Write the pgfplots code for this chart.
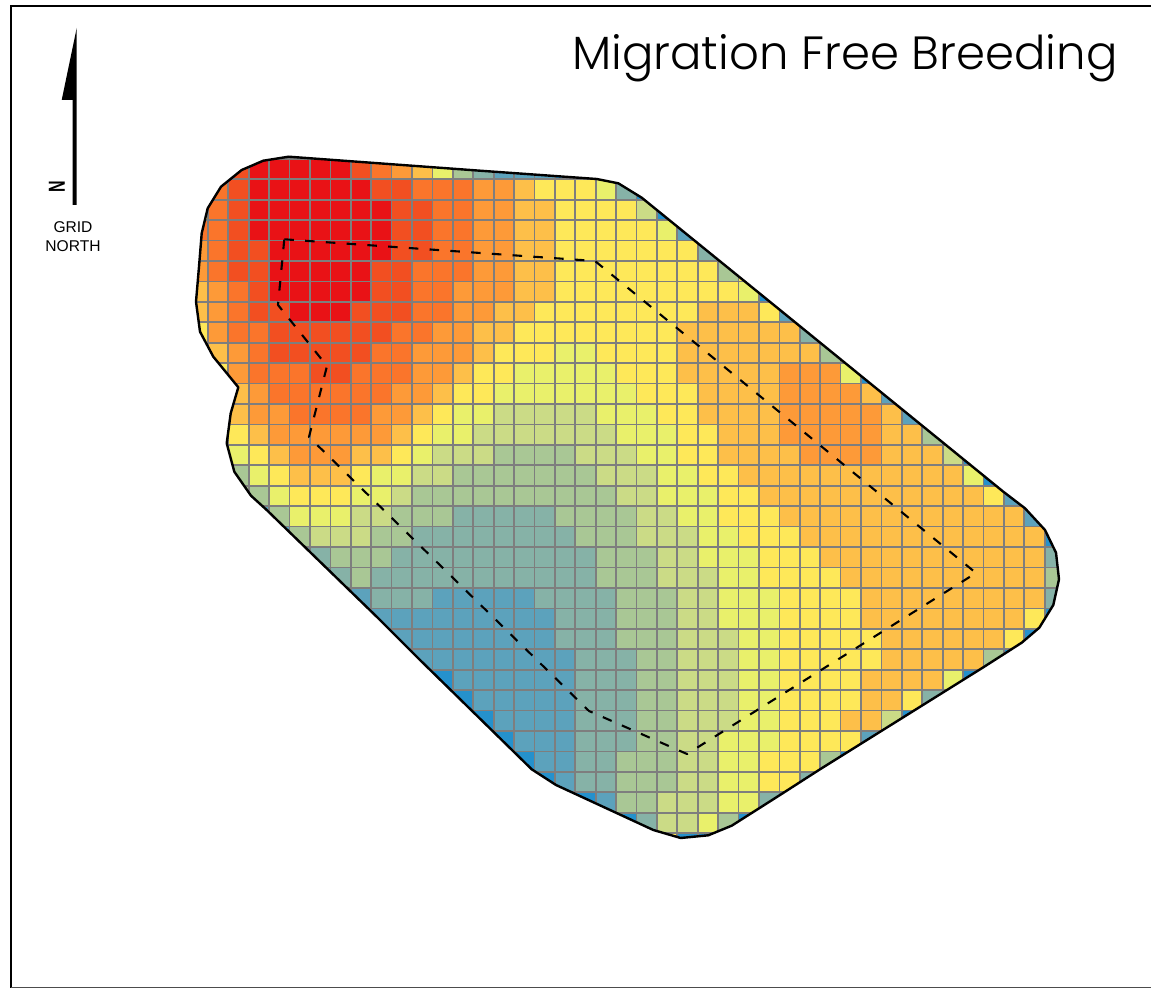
\documentclass[border=0pt]{standalone}
\usepackage{fontspec}
\setmainfont{Liberation Sans}
\newfontfamily\titlefont{Poppins Light}
\usepackage{pgfplots}
\usepackage{pgfplotstable}
\pgfplotsset{compat=1.18}
\definecolor{gridgray}{RGB}{126,126,126}
% class of each cell: rows top to bottom, columns left to right (cells outside the outline are masked)
\pgfplotstableread[header=false]{
5 5 1 0 0 0 0 0 1 2   3 4 6 8 9 10 10 10 11 11   5 5 5 5 5 5 5 5 5 5   5 5 5 5 5 5 5 5 5 5   5 5 5
5 2 1 0 0 0 0 0 0 1   1 2 2 2 3 3 4 5 5 5   6 9 11 5 5 5 5 5 5 5   5 5 5 5 5 5 5 5 5 5   5 5 5
5 2 1 0 0 0 0 0 0 0   1 1 2 2 3 3 4 4 5 5   5 5 7 11 5 5 5 5 5 5   5 5 5 5 5 5 5 5 5 5   5 5 5
2 2 1 0 0 0 0 0 0 0   1 1 2 2 3 3 4 4 5 5   5 5 5 6 10 5 5 5 5 5   5 5 5 5 5 5 5 5 5 5   5 5 5
3 2 1 1 0 0 0 0 0 0   1 1 2 2 3 3 4 4 5 5   5 5 5 5 5 9 5 5 5 5   5 5 5 5 5 5 5 5 5 5   5 5 5
3 2 1 1 0 0 0 0 0 1   1 2 2 2 3 3 4 4 5 5   5 5 5 5 5 5 8 5 5 5   5 5 5 5 5 5 5 5 5 5   5 5 5
4 3 2 1 0 0 0 0 0 1   1 2 2 3 3 3 4 4 5 5   5 5 5 5 5 5 5 6 11 5   5 5 5 5 5 5 5 5 5 5   5 5 5
4 3 2 1 1 0 0 0 1 1   1 2 2 3 3 4 4 5 5 5   5 5 5 5 5 4 4 4 5 10   5 5 5 5 5 5 5 5 5 5   5 5 5
5 3 2 2 1 1 1 1 1 1   2 2 3 3 4 4 5 5 5 5   5 5 5 5 4 4 4 4 4 4   9 5 5 5 5 5 5 5 5 5   5 5 5
5 4 3 2 1 1 1 1 1 2   2 3 3 3 4 5 5 5 6 6   5 5 5 5 4 4 4 4 4 4   4 8 5 5 5 5 5 5 5 5   5 5 5
5 5 3 2 2 2 1 1 2 2   2 3 3 4 5 5 6 6 6 6   6 5 5 5 4 4 4 4 4 3   3 3 6 11 5 5 5 5 5 5   5 5 5
5 5 4 3 2 2 2 2 2 2   3 3 4 5 5 6 6 6 6 6   6 6 5 5 5 4 4 4 4 3   3 3 3 4 10 5 5 5 5 5   5 5 5
5 5 4 3 3 2 2 2 2 3   3 4 5 6 6 7 7 7 7 7   6 6 6 5 5 4 4 4 4 3   3 3 3 3 4 10 5 5 5 5   5 5 5
5 5 5 4 3 3 3 3 3 3   4 5 6 6 7 7 7 7 7 7   7 6 6 6 5 5 4 4 4 3   3 3 3 3 4 4 8 5 5 5   5 5 5
5 5 6 5 4 3 3 3 4 4   5 6 7 7 7 8 8 8 8 7   7 7 6 6 5 5 4 4 4 4   3 3 3 3 4 4 4 7 11 5   5 5 5
5 5 8 6 5 4 4 4 5 6   6 7 7 8 8 8 8 8 8 8   7 7 7 6 6 5 5 4 4 4   4 4 4 4 4 4 4 4 6 11   5 5 5
5 5 8 8 6 5 5 5 6 6   7 8 8 8 8 8 8 8 8 8   8 7 7 6 6 6 5 5 4 4   4 4 4 4 4 4 4 4 4 5   10 5 5
5 5 5 10 8 6 6 6 7 7   8 8 8 9 9 9 9 9 8 8   8 8 7 7 6 6 5 5 5 4   4 4 4 4 4 4 4 4 4 4   4 10 5
5 5 5 5 10 8 7 7 7 8   8 9 9 9 9 9 9 9 9 8   8 8 7 7 7 6 6 5 5 5   4 4 4 4 4 4 4 4 4 4   4 4 11
5 5 5 5 5 10 9 8 8 8   9 9 9 9 9 9 9 9 9 9   8 8 8 7 7 6 6 6 5 5   5 4 4 4 4 4 4 4 4 4   4 4 9
5 5 5 5 5 5 10 9 8 9   9 9 9 9 9 9 9 9 9 9   8 8 8 7 7 7 6 6 5 5   5 5 4 4 4 4 4 4 4 4   4 4 8
5 5 5 5 5 5 5 10 10 9   9 9 10 10 10 10 10 9 9 9   9 8 8 8 7 7 6 6 6 5   5 5 5 4 4 4 4 4 4 4   4 4 9
5 5 5 5 5 5 5 5 10 10   10 10 10 10 10 10 10 10 9 9   9 8 8 8 7 7 6 6 6 5   5 5 5 4 4 4 4 4 4 4   4 5 11
5 5 5 5 5 5 5 5 10 10   10 10 10 10 10 10 10 10 9 9   9 8 8 8 7 7 7 6 6 5   5 5 5 5 4 4 4 4 4 4   5 11 5
5 5 5 5 5 5 5 5 5 5   10 10 10 10 10 10 10 10 10 9   9 9 8 8 7 7 7 6 6 5   5 5 5 5 4 4 4 4 4 8   11 5 5
5 5 5 5 5 5 5 5 5 5   5 11 11 10 10 10 10 10 10 9   9 9 8 8 7 7 7 6 6 5   5 5 5 4 4 4 4 6 11 5   5 5 5
5 5 5 5 5 5 5 5 5 5   5 5 5 11 10 10 10 10 10 9   9 9 8 8 7 7 7 6 6 5   5 5 5 4 4 5 9 5 5 5   5 5 5
5 5 5 5 5 5 5 5 5 5   5 5 5 5 11 10 10 10 10 9   9 9 8 8 7 7 7 6 6 5   5 5 4 4 7 11 5 5 5 5   5 5 5
5 5 5 5 5 5 5 5 5 5   5 5 5 5 5 11 10 10 10 9   9 9 8 8 7 7 6 6 6 5   5 5 5 10 5 5 5 5 5 5   5 5 5
5 5 5 5 5 5 5 5 5 5   5 5 5 5 5 5 11 10 10 9   9 8 8 8 7 7 6 6 5 5   5 8 11 5 5 5 5 5 5 5   5 5 5
5 5 5 5 5 5 5 5 5 5   5 5 5 5 5 5 5 11 10 9   9 8 8 8 7 7 6 6 5 5   9 5 5 5 5 5 5 5 5 5   5 5 5
5 5 5 5 5 5 5 5 5 5   5 5 5 5 5 5 5 5 5 11   10 8 8 7 7 7 6 6 9 11   5 5 5 5 5 5 5 5 5 5   5 5 5
5 5 5 5 5 5 5 5 5 5   5 5 5 5 5 5 5 5 5 5   5 11 9 7 7 6 8 11 5 5   5 5 5 5 5 5 5 5 5 5   5 5 5
5 5 5 5 5 5 5 5 5 5   5 5 5 5 5 5 5 5 5 5   5 5 5 5 11 11 5 5 5 5   5 5 5 5 5 5 5 5 5 5   5 5 5
}\gridtable
\begin{document}
\begin{tikzpicture}
\begin{axis}[
  scale only axis, width=575.5pt, height=494pt,
  xmin=0, xmax=1151, ymin=0, ymax=988, y dir=reverse,
  hide axis, clip mode=individual,
  colormap={mig}{rgb255=(233,18,22) rgb255=(242,79,33) rgb255=(250,117,43) rgb255=(253,154,56)
    rgb255=(253,191,73) rgb255=(254,232,89) rgb255=(233,240,107) rgb255=(203,219,134)
    rgb255=(169,199,149) rgb255=(134,178,167) rgb255=(92,162,188) rgb255=(37,145,204)},
  point meta min=0, point meta max=11,
]
\pgfplotsinvokeforeach{0,...,42}{
  \addplot[scatter, only marks, mark=square*, mark size=5.105pt, line width=0.3pt,
    scatter/use mapped color={draw=mapped color, fill=mapped color},
    scatter src=explicit, forget plot]
    table[x expr={187.5+20.41*(#1+0.5)}, y expr={158.9+20.43*(\coordindex+0.5)}, meta index=#1]{\gridtable};
}
% grid lines
\addplot[gridgray, line width=0.85pt, forget plot] coordinates {
 (187.5,150)(187.5,860)(207.91,860)(207.91,150)(228.32,150)(228.32,860)(248.73,860)(248.73,150)
 (269.14,150)(269.14,860)(289.55,860)(289.55,150)(309.96,150)(309.96,860)(330.37,860)(330.37,150)
 (350.78,150)(350.78,860)(371.19,860)(371.19,150)(391.6,150)(391.6,860)(412.01,860)(412.01,150)
 (432.42,150)(432.42,860)(452.83,860)(452.83,150)(473.24,150)(473.24,860)(493.65,860)(493.65,150)
 (514.06,150)(514.06,860)(534.47,860)(534.47,150)(554.88,150)(554.88,860)(575.29,860)(575.29,150)
 (595.7,150)(595.7,860)(616.11,860)(616.11,150)(636.52,150)(636.52,860)(656.93,860)(656.93,150)
 (677.34,150)(677.34,860)(697.75,860)(697.75,150)(718.16,150)(718.16,860)(738.57,860)(738.57,150)
 (758.98,150)(758.98,860)(779.39,860)(779.39,150)(799.8,150)(799.8,860)(820.21,860)(820.21,150)
 (840.62,150)(840.62,860)(861.03,860)(861.03,150)(881.44,150)(881.44,860)(901.85,860)(901.85,150)
 (922.26,150)(922.26,860)(942.67,860)(942.67,150)(963.08,150)(963.08,860)(983.49,860)(983.49,150)
 (1003.9,150)(1003.9,860)(1024.31,860)(1024.31,150)(1044.72,150)(1044.72,860)(1065.13,860)(1065.13,150)};
\addplot[gridgray, line width=0.85pt, forget plot] coordinates {
 (180,158.9)(1075,158.9)(1075,179.33)(180,179.33)(180,199.76)(1075,199.76)(1075,220.19)(180,220.19)
 (180,240.62)(1075,240.62)(1075,261.05)(180,261.05)(180,281.48)(1075,281.48)(1075,301.91)(180,301.91)
 (180,322.34)(1075,322.34)(1075,342.77)(180,342.77)(180,363.2)(1075,363.2)(1075,383.63)(180,383.63)
 (180,404.06)(1075,404.06)(1075,424.49)(180,424.49)(180,444.92)(1075,444.92)(1075,465.35)(180,465.35)
 (180,485.78)(1075,485.78)(1075,506.21)(180,506.21)(180,526.64)(1075,526.64)(1075,547.07)(180,547.07)
 (180,567.5)(1075,567.5)(1075,587.93)(180,587.93)(180,608.36)(1075,608.36)(1075,628.79)(180,628.79)
 (180,649.22)(1075,649.22)(1075,669.65)(180,669.65)(180,690.08)(1075,690.08)(1075,710.51)(180,710.51)
 (180,730.94)(1075,730.94)(1075,751.37)(180,751.37)(180,771.8)(1075,771.8)(1075,792.23)(180,792.23)
 (180,812.66)(1075,812.66)(1075,833.09)(180,833.09)};
% white mask outside the outline (keyhole path)
\addplot[fill=white, draw=none, forget plot] coordinates {
 (0,0) (1151,0) (1151,988) (0,988) (0,156.7) (288.7,156.7)
 (263.3,160.7) (241.7,170) (221,186.7) (207.7,208.3) (201.7,233.3) (199,266.7) (196,301.7) (200,331.7)
 (213.3,356.7) (238.3,387.3) (230.7,413.3) (226.7,443.3) (234.3,471.7) (251,495.7) (266.7,510)
 (378.3,618.3) (420,660) (531.7,769.3) (556,785) (653.3,830) (680.7,838) (708.3,835.3) (731.7,825.7)
 (780,795) (820,769.3) (983.3,667.3) (1021.7,642.7) (1039.3,627.7) (1053.3,605) (1059,579.3) (1056,552.7)
 (1045,530) (1025,508.3) (1003.3,491.7) (780,310) (641.7,197.7) (618.3,183.3) (596.7,179) (480,170.7)
 (288.7,156.7) (0,156.7) (0,0)};
% outline
\addplot[black, line width=1.2pt, line join=round, forget plot] coordinates {
 (288.7,156.7) (263.3,160.7) (241.7,170) (221,186.7) (207.7,208.3) (201.7,233.3) (199,266.7) (196,301.7) (200,331.7)
 (213.3,356.7) (238.3,387.3) (230.7,413.3) (226.7,443.3) (234.3,471.7) (251,495.7) (266.7,510)
 (378.3,618.3) (420,660) (531.7,769.3) (556,785) (653.3,830) (680.7,838) (708.3,835.3) (731.7,825.7)
 (780,795) (820,769.3) (983.3,667.3) (1021.7,642.7) (1039.3,627.7) (1053.3,605) (1059,579.3) (1056,552.7)
 (1045,530) (1025,508.3) (1003.3,491.7) (780,310) (641.7,197.7) (618.3,183.3) (596.7,179) (480,170.7)
 (288.7,156.7)};
% dashed inner boundary
\addplot[black, line width=1.05pt, dash pattern=on 4.8pt off 5.6pt, line join=round, forget plot] coordinates {
 (284.3,239.3) (595,261) (976,573) (687,754) (589,711) (309,437) (327,366) (278,305) (284.3,239.3)};
% frame
\addplot[black, line width=1pt, forget plot] coordinates {(1151,6.5) (11,6.5) (11,988)};
\addplot[black!70, line width=0.5pt, forget plot] coordinates {(11,987.3) (1151,987.3)};
% north arrow
\addplot[fill=black, draw=none, forget plot] coordinates {
 (76.7,28) (61.7,100) (72.7,100) (72.7,205) (76.7,205) (76.7,28)};
\node[rotate=90, anchor=center, font=\fontsize{8}{8}\selectfont\bfseries, inner sep=0pt] at (axis cs:57,187) {\scalebox{1}[1.45]{N}};
\node[align=center, anchor=north, font=\fontsize{7.8}{9.6}\selectfont, inner sep=0pt] at (axis cs:73,221) {GRID\\NORTH};
\node[anchor=base east, font=\fontsize{23.3}{28}\selectfont\titlefont, inner sep=0pt] at (axis cs:1118,70) {Migration Free Breeding};
\end{axis}
\end{tikzpicture}
\end{document}
